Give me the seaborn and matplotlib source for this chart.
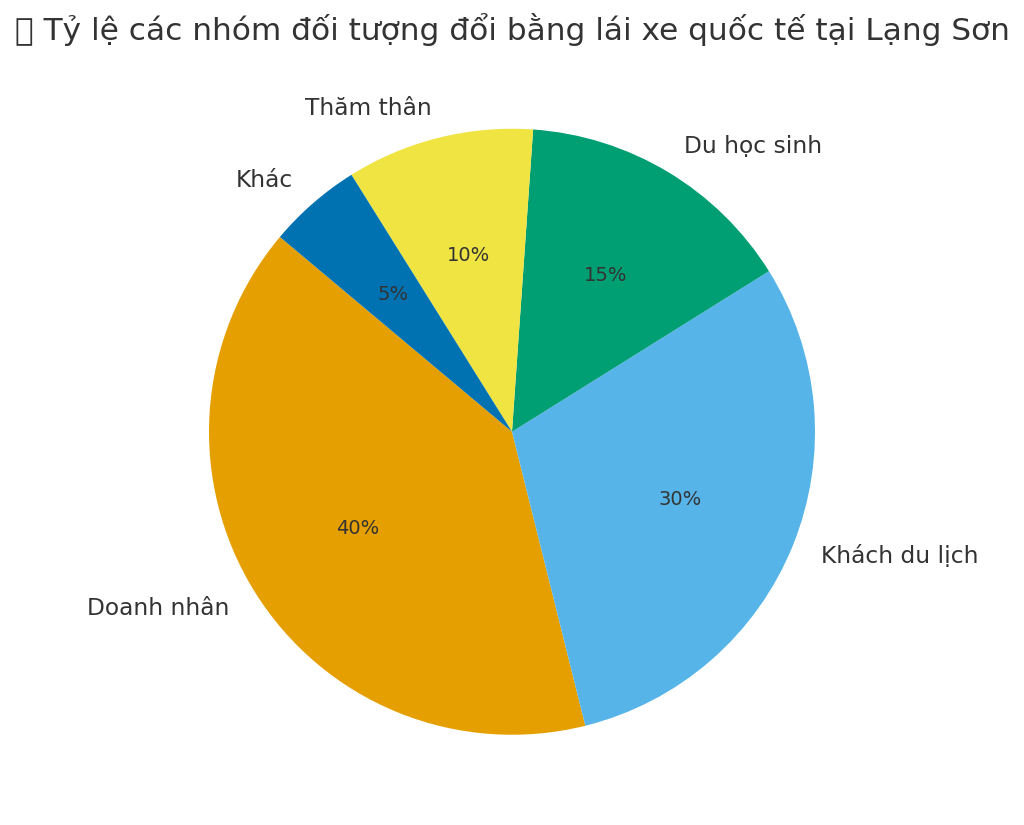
import matplotlib
matplotlib.use("Agg")
import matplotlib.pyplot as plt
import seaborn as sns

# Données du graphique
groupes = ["Doanh nhân", "Khách du lịch", "Du học sinh", "Thăm thân", "Khác"]
pourcentages = [40, 30, 15, 10, 5]
couleurs = ["#E69F00", "#56B4E9", "#009E73", "#F0E442", "#0072B2"]
titre = "📊 Tỷ lệ các nhóm đối tượng đổi bằng lái xe quốc tế tại Lạng Sơn"

sns.set_style("white")
plt.rcParams["font.family"] = ["DejaVu Sans", "Noto Sans", "Noto Sans CJK SC"]
plt.rcParams["text.color"] = "#333333"

fig = plt.figure(figsize=(10.24, 8.25), dpi=100)
# axe carré centré sur le camembert (rayon ~303 px)
ax = fig.add_axes([133.25 / 1024, 14.5 / 825, 757.5 / 1024, 757.5 / 825])

wedges, textes, autotextes = ax.pie(
    pourcentages,
    labels=groupes,
    colors=couleurs,
    autopct="%1.0f%%",
    startangle=140,
    wedgeprops={"linewidth": 0},
    textprops={"fontsize": 16.8, "color": "#333333"},
)
for t in autotextes:
    t.set_fontsize(14)

ax.set_title(titre, fontsize=22.5, pad=9, color="#333333")
ax.set_aspect("equal")

plt.savefig("out.png", dpi=100)
plt.close()
